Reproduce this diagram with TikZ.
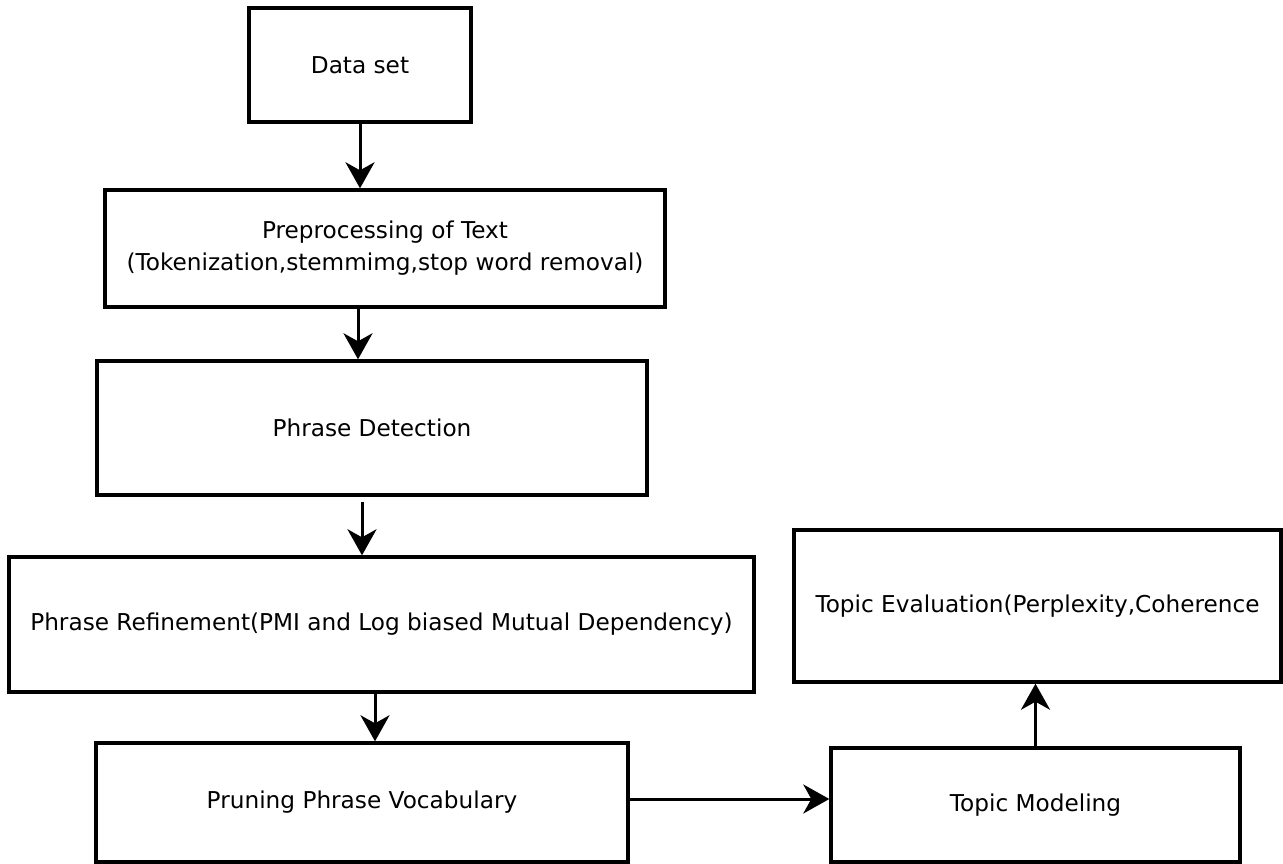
\documentclass[tikz,border=0pt]{standalone}
\usepackage{fontspec}
\setmainfont{DejaVu Sans}
\usetikzlibrary{arrows.meta}
\begin{document}
\begin{tikzpicture}[x=1pt,y=-1pt,
  box/.style={draw=black, line width=3.4pt, fill=white, inner sep=0pt,
    font=\fontsize{23.2}{32}\selectfont, align=center},
  arr/.style={line width=3pt, -{Stealth[length=26pt,width=29pt,inset=8pt]}}]
\useasboundingbox[fill=white] (0,0) rectangle (1283,864);
% boxes: center x, center y, width, height
\node[box, minimum width=222pt, minimum height=114pt] (ds) at (360,65) {Data set};
\node[box, minimum width=560pt, minimum height=117pt] (pre) at (385,248.5)
  {Preprocessing of Text\\(Tokenization,stemmimg,stop word removal)};
\node[box, minimum width=550pt, minimum height=134pt] (det) at (372,428) {Phrase Detection};
\node[box, minimum width=745pt, minimum height=135pt] (ref) at (381.5,624.5)
  {Phrase Refinement(PMI and Log biased Mutual Dependency)};
\node[box, minimum width=532pt, minimum height=119pt] (pru) at (362,802.5) {Pruning Phrase Vocabulary};
\node[box, minimum width=409pt, minimum height=114pt] (tm) at (1035.5,805) {Topic Modeling};
\node[box, minimum width=487pt, minimum height=152pt] (ev) at (1037.5,606) {Topic Evaluation(Perplexity,Coherence};
% connectors
\draw[arr] (ds.south) -- (ds.south |- pre.north);
\draw[arr] ([xshift=-27pt]pre.south) -- ([xshift=-27pt]pre.south |- det.north);
\draw[arr] ([xshift=-10pt,yshift=-5pt]det.south) -- ([xshift=-10pt]det.south |- ref.north);
\draw[arr] ([xshift=-6.5pt]ref.south) -- ([xshift=-6.5pt]ref.south |- pru.north);
\draw[arr] ([yshift=3.5pt]pru.east) -- ([yshift=3.5pt]pru.east -| tm.west);
\draw[arr] (tm.north) -- (tm.north |- ev.south);
\end{tikzpicture}
\end{document}
